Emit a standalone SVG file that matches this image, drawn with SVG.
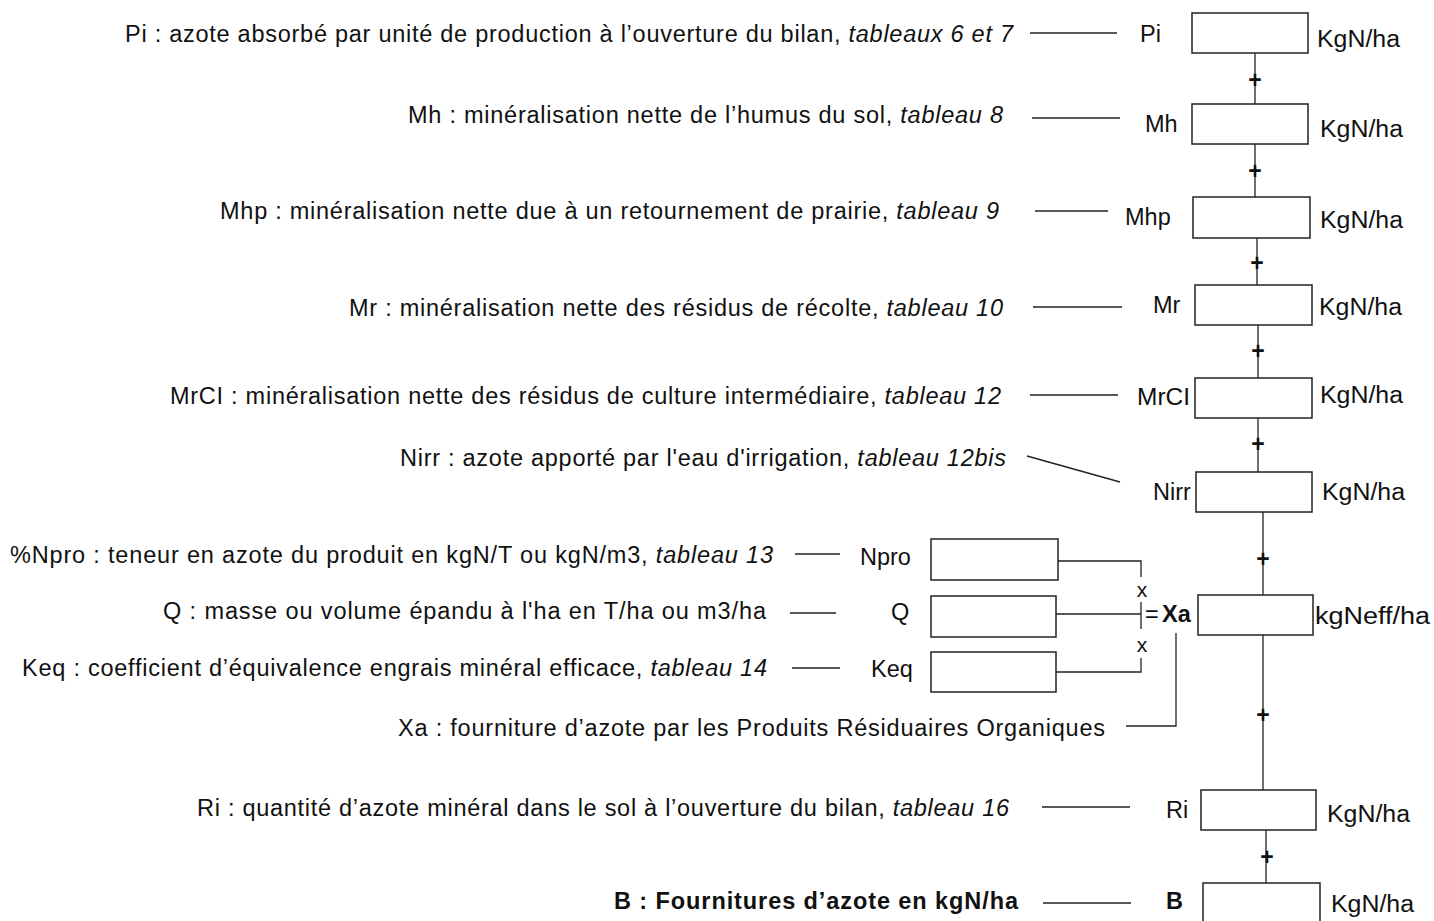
<svg xmlns="http://www.w3.org/2000/svg" width="1434" height="921" viewBox="0 0 1434 921">
<style>
text{font-family:"Liberation Sans",Arial,sans-serif;fill:#111;font-size:23.5px}
.i{font-style:italic}
.b{font-weight:bold}
.box{fill:#fff;stroke:#222;stroke-width:1.5}
.ln{stroke:#222;stroke-width:1.3;fill:none}
.op{font-size:23px;font-weight:bold;text-anchor:middle}
.x{font-size:21px;text-anchor:middle}
.e{text-anchor:end}
</style>
<rect width="1434" height="921" fill="#fff"/>
<g id="connectors">
<line class="ln" x1="1030" y1="33" x2="1117" y2="33"/>
<line class="ln" x1="1032" y1="118" x2="1120" y2="118"/>
<line class="ln" x1="1035" y1="211" x2="1108" y2="211"/>
<line class="ln" x1="1033" y1="307" x2="1122" y2="307"/>
<line class="ln" x1="1030" y1="395" x2="1118" y2="395"/>
<line class="ln" x1="1027" y1="456" x2="1120" y2="482"/>
<line class="ln" x1="795" y1="554" x2="840" y2="554"/>
<line class="ln" x1="790" y1="613" x2="836" y2="613"/>
<line class="ln" x1="792" y1="668" x2="840" y2="668"/>
<line class="ln" x1="1042" y1="807" x2="1130" y2="807"/>
<line class="ln" x1="1043" y1="903" x2="1131" y2="903"/>
<line class="ln" x1="1255" y1="53" x2="1255" y2="104"/>
<line class="ln" x1="1255" y1="144" x2="1255" y2="197"/>
<line class="ln" x1="1257" y1="238" x2="1257" y2="285"/>
<line class="ln" x1="1258" y1="325" x2="1258" y2="378"/>
<line class="ln" x1="1258" y1="418" x2="1258" y2="472"/>
<line class="ln" x1="1263" y1="512" x2="1263" y2="595"/>
<line class="ln" x1="1263" y1="635" x2="1263" y2="790"/>
<line class="ln" x1="1266" y1="830" x2="1266" y2="883"/>
<polyline class="ln" points="1058,561 1141,561 1141,577"/>
<line class="ln" x1="1056" y1="614" x2="1141" y2="614"/>
<line class="ln" x1="1141" y1="602" x2="1141" y2="629"/>
<polyline class="ln" points="1056,672 1141,672 1141,658"/>
<polyline class="ln" points="1126,726 1176,726 1176,633"/>
<text class="op" x="1255" y="88">+</text>
<text class="op" x="1255" y="179">+</text>
<text class="op" x="1257" y="271">+</text>
<text class="op" x="1258" y="359">+</text>
<text class="op" x="1258" y="452">+</text>
<text class="op" x="1263" y="567">+</text>
<text class="op" x="1263" y="723">+</text>
<text class="op" x="1267" y="865">+</text>
<text class="x" x="1142" y="597">x</text>
<text class="x" x="1142" y="652">x</text>
</g>
<g id="Pi">
<text class="e" x="1013" y="42" textLength="888" lengthAdjust="spacing">Pi : azote absorbé par unité de production à l’ouverture du bilan, <tspan class="i">tableaux 6 et 7</tspan></text>
<text x="1140" y="42">Pi</text>
<rect class="box" x="1192" y="13" width="116" height="40"/>
<text x="1317" y="47" textLength="83" lengthAdjust="spacingAndGlyphs">KgN/ha</text>
</g>
<g id="Mh">
<text class="e" x="1003" y="123" textLength="595" lengthAdjust="spacing">Mh : minéralisation nette de l’humus du sol, <tspan class="i">tableau 8</tspan></text>
<text x="1145" y="132">Mh</text>
<rect class="box" x="1192" y="104" width="116" height="40"/>
<text x="1320" y="137" textLength="83" lengthAdjust="spacingAndGlyphs">KgN/ha</text>
</g>
<g id="Mhp">
<text class="e" x="999" y="219" textLength="779" lengthAdjust="spacing">Mhp : minéralisation nette due à un retournement de prairie, <tspan class="i">tableau 9</tspan></text>
<text x="1125" y="225">Mhp</text>
<rect class="box" x="1193" y="197" width="117" height="41"/>
<text x="1320" y="228" textLength="83" lengthAdjust="spacingAndGlyphs">KgN/ha</text>
</g>
<g id="Mr">
<text class="e" x="1003" y="316" textLength="654" lengthAdjust="spacing">Mr : minéralisation nette des résidus de récolte, <tspan class="i">tableau 10</tspan></text>
<text x="1153" y="313">Mr</text>
<rect class="box" x="1195" y="285" width="117" height="40"/>
<text x="1319" y="315" textLength="83" lengthAdjust="spacingAndGlyphs">KgN/ha</text>
</g>
<g id="MrCl">
<text class="e" x="1001" y="404" textLength="831" lengthAdjust="spacing">MrCI : minéralisation nette des résidus de culture intermédiaire, <tspan class="i">tableau 12</tspan></text>
<text x="1137" y="405" textLength="53" lengthAdjust="spacingAndGlyphs">MrCI</text>
<rect class="box" x="1195" y="378" width="117" height="40"/>
<text x="1320" y="403" textLength="83" lengthAdjust="spacingAndGlyphs">KgN/ha</text>
</g>
<g id="Nirr">
<text class="e" x="1006" y="466" textLength="606" lengthAdjust="spacing">Nirr : azote apporté par l'eau d'irrigation, <tspan class="i">tableau 12bis</tspan></text>
<text x="1153" y="500">Nirr</text>
<rect class="box" x="1196" y="472" width="116" height="40"/>
<text x="1322" y="500" textLength="83" lengthAdjust="spacingAndGlyphs">KgN/ha</text>
</g>
<g id="Npro">
<text class="e" x="773" y="563" textLength="763" lengthAdjust="spacing">%Npro : teneur en azote du produit en kgN/T ou kgN/m3, <tspan class="i">tableau 13</tspan></text>
<text x="860" y="565">Npro</text>
<rect class="box" x="931" y="539" width="127" height="41"/>
</g>
<g id="Q">
<text class="e" x="766" y="619" textLength="603" lengthAdjust="spacing">Q : masse ou volume épandu à l'ha en T/ha ou m3/ha</text>
<text x="891" y="620">Q</text>
<rect class="box" x="931" y="596" width="125" height="41"/>
</g>
<g id="Keq">
<text class="e" x="767" y="676" textLength="745" lengthAdjust="spacing">Keq : coefficient d’équivalence engrais minéral efficace, <tspan class="i">tableau 14</tspan></text>
<text x="871" y="677">Keq</text>
<rect class="box" x="931" y="652" width="125" height="40"/>
</g>
<g id="Xa">
<text x="1145" y="622">=</text>
<text class="b" x="1162" y="622">Xa</text>
<text class="e" x="1105" y="736" textLength="707" lengthAdjust="spacing">Xa : fourniture d’azote par les Produits Résiduaires Organiques</text>
<rect class="box" x="1198" y="595" width="115" height="40"/>
<text x="1315" y="624" textLength="115" lengthAdjust="spacingAndGlyphs">kgNeff/ha</text>
</g>
<g id="Ri">
<text class="e" x="1009" y="816" textLength="812" lengthAdjust="spacing">Ri : quantité d’azote minéral dans le sol à l’ouverture du bilan, <tspan class="i">tableau 16</tspan></text>
<text x="1166" y="818">Ri</text>
<rect class="box" x="1201" y="790" width="115" height="40"/>
<text x="1327" y="822" textLength="83" lengthAdjust="spacingAndGlyphs">KgN/ha</text>
</g>
<g id="B">
<text class="e b" x="1018" y="909" textLength="404" lengthAdjust="spacing">B : Fournitures d’azote en kgN/ha</text>
<text class="b" x="1166" y="909">B</text>
<rect class="box" x="1203" y="883" width="117" height="50"/>
<text x="1331" y="912" textLength="83" lengthAdjust="spacingAndGlyphs">KgN/ha</text>
</g>
</svg>
